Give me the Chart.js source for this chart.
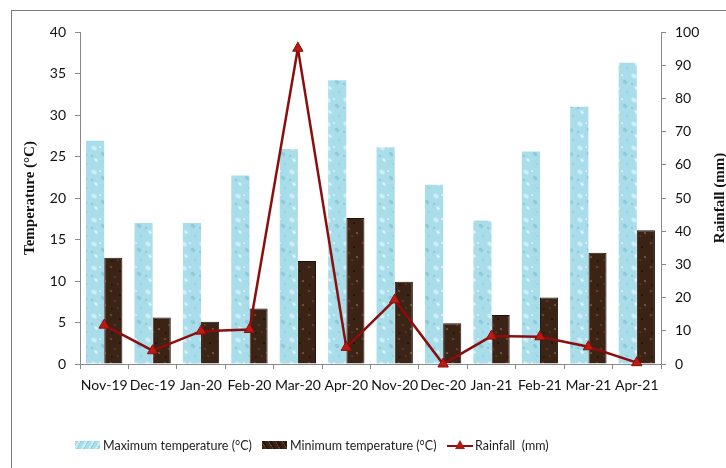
<!DOCTYPE html>
<html>
<head>
<meta charset="utf-8">
<script src="https://cdn.jsdelivr.net/npm/chart.js@4.4.0/dist/chart.umd.min.js"></script>
<style>
  body { margin: 0; background: #fff; }
  #wrap { position: relative; width: 726px; height: 468px; font-family: Lato, "Open Sans", sans-serif; }
  #frame { position: absolute; left: 11px; top: 10px; right: -2px; bottom: -2px; border-left: 1.5px solid #7a7a7a; border-top: 1.5px solid #7a7a7a; pointer-events: none; }
  #myChart { position: absolute; left: 0; top: 0; }
  .item { position: absolute; top: 437px; height: 16px; display: flex; align-items: center; font-size: 12.5px; color: #222; white-space: nowrap; }
  .sw { width: 25px; height: 8px; margin-right: 3px; }
  .sw-max { background: repeating-linear-gradient(120deg, #a9dde9 0 3px, #c9edf4 3px 5px, #8fcfdf 5px 6px); }
  .sw-min { background: repeating-linear-gradient(60deg, #3a2314 0 3px, #5e3f2a 3px 4px, #24150c 4px 6px); }
  .sw-line { position: relative; width: 26px; height: 12px; margin-right: 2px; }
  .sw-line:before { content: ""; position: absolute; left: 0; right: 0; top: 6px; border-top: 2px solid #8b0d0d; }
  .sw-line:after { content: ""; position: absolute; left: 8px; top: 1px; border-left: 5px solid transparent; border-right: 5px solid transparent; border-bottom: 9px solid #b01a10; }
</style>
</head>
<body>
<div id="wrap">
  <div id="frame"></div>
  <canvas id="myChart" width="726" height="468"></canvas>
  <div class="item" style="left:75px"><span class="sw sw-max"></span>Maximum temperature (°C)</div>
  <div class="item" style="left:262px"><span class="sw sw-min"></span>Minimum temperature (°C)</div>
  <div class="item" style="left:447px"><span class="sw-line"></span>Rainfall&nbsp; (mm)</div>
</div>
<script>
// chart values
const months = ["Nov-19", "Dec-19", "Jan-20", "Feb-20", "Mar-20", "Apr-20", "Nov-20", "Dec-20", "Jan-21", "Feb-21", "Mar-21", "Apr-21"];
const maxTemp = [26.9, 17.0, 17.0, 22.7, 25.9, 34.2, 26.1, 21.6, 17.3, 25.6, 31.0, 36.3];
const minTemp = [12.8, 5.6, 5.1, 6.7, 12.4, 17.6, 9.9, 4.9, 5.9, 8.0, 13.4, 16.1];
const rainfall = [11.7, 4.0, 9.9, 10.4, 95.1, 5.0, 19.3, 0, 8.4, 8.2, 5.2, 0.4];
const tempTicks = [0, 40, 5];   // min, max, step
const rainTicks = [0, 100, 10];

// small textures for the bars
function makePattern(base, spots) {
  const c = document.createElement("canvas");
  c.width = 18;
  c.height = 24;
  const g = c.getContext("2d");
  g.fillStyle = base;
  g.fillRect(0, 0, 18, 24);
  spots.forEach(s => {
    g.fillStyle = s[3];
    g.beginPath();
    g.ellipse(s[0], s[1], s[2], s[2] * 0.7, 0.6, 0, Math.PI * 2);
    g.fill();
  });
  return g.createPattern(c, "repeat");
}

const ctx = document.getElementById("myChart").getContext("2d");
const bluePattern = makePattern("#a9dde9", [
  [4, 4, 3, "#cdeff6"], [13, 10, 2.5, "#8dcbdc"], [6, 16, 2, "#d9f3f8"],
  [15, 20, 1.5, "#93d0e0"], [10, 3, 1, "#ffffff"], [2, 12, 1.2, "#86c5d7"]
]);
const brownPattern = makePattern("#3b2416", [
  [3, 3, 1.5, "#6a4a33"], [12, 7, 1.2, "#1f120a"], [7, 13, 1.6, "#5a3b26"],
  [15, 17, 1.3, "#7a5840"], [4, 21, 1.1, "#22150c"], [10, 20, 1, "#684630"]
]);

const rightTitle = {
  id: "rightTitle",
  afterDraw(chart) {
    const c = chart.ctx;
    const area = chart.chartArea;
    c.save();
    c.translate(720, (area.top + area.bottom) / 2);
    c.rotate(-Math.PI / 2);
    c.font = "bold 15px 'Liberation Serif'";
    c.fillStyle = "#111";
    c.textAlign = "center";
    c.textBaseline = "middle";
    c.fillText("Rainfall (mm)", 0, 0);
    c.restore();
  }
};

const tickFont = { family: "Lato", size: 14 };

let chart = new Chart(ctx, {
  type: "bar",
  data: {
    labels: months,
    datasets: [
      {
        type: "line",
        label: "Rainfall  (mm)",
        data: rainfall,
        yAxisID: "y1",
        borderColor: "#8b0d0d",
        borderWidth: 2.5,
        pointStyle: "triangle",
        pointRadius: 6,
        pointBackgroundColor: "#b81c12",
        pointBorderColor: "#8b0d0d",
        pointBorderWidth: 1,
        tension: 0,
        clip: false,
        order: 0
      },
      {
        label: "Maximum temperature (°C)",
        data: maxTemp,
        yAxisID: "y",
        backgroundColor: bluePattern,
        borderWidth: 0,
        order: 1
      },
      {
        label: "Minimum temperature (°C)",
        data: minTemp,
        yAxisID: "y",
        backgroundColor: brownPattern,
        borderColor: "#1e1109",
        borderWidth: 1,
        order: 1
      }
    ]
  },
  options: {
    responsive: false,
    animation: false,
    layout: { padding: { left: 0, right: 0, top: 32, bottom: 64 } },
    datasets: { bar: { categoryPercentage: 0.75, barPercentage: 1.0 } },
    plugins: { legend: { display: false }, tooltip: { enabled: false } },
    scales: {
      x: {
        grid: { display: true, drawOnChartArea: false, drawTicks: true, tickLength: 5, color: "#8a8a8a", offset: true },
        border: { display: true, color: "#8a8a8a", width: 1 },
        ticks: { color: "#111", font: tickFont, padding: 8, maxRotation: 0, autoSkip: false },
        afterFit(scale) { scale.height = 40; }
      },
      y: {
        position: "left",
        min: tempTicks[0],
        max: tempTicks[1],
        ticks: { stepSize: tempTicks[2], color: "#111", font: tickFont, padding: 9 },
        grid: { display: true, drawOnChartArea: false, drawTicks: true, tickLength: 5, color: "#8a8a8a" },
        border: { display: true, color: "#8a8a8a", width: 1 },
        title: {
          display: true,
          text: "Temperature (°C)",
          color: "#111",
          font: { family: "Liberation Serif", size: 15, weight: "bold" },
          padding: { top: 21, bottom: 0 }
        },
        afterFit(scale) { scale.width = 80; }
      },
      y1: {
        position: "right",
        min: rainTicks[0],
        max: rainTicks[1],
        ticks: { stepSize: rainTicks[2], color: "#111", font: tickFont, padding: 9 },
        grid: { display: true, drawOnChartArea: false, drawTicks: true, tickLength: 5, color: "#8a8a8a" },
        border: { display: true, color: "#8a8a8a", width: 1 },
        afterFit(scale) { scale.width = 65; }
      }
    }
  },
  plugins: [rightTitle]
});
</script>
</body>
</html>
